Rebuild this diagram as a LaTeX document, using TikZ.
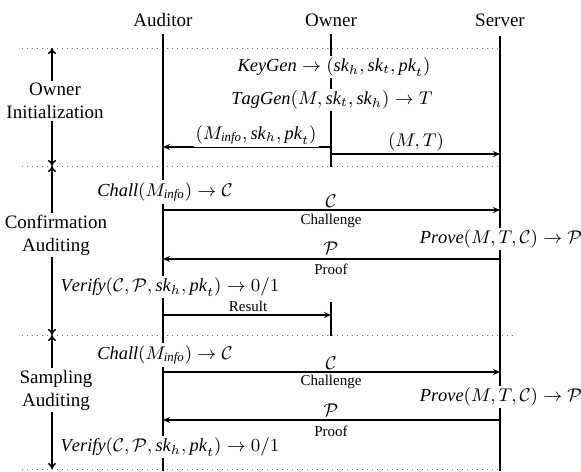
\RequirePackage{fix-cm}
\documentclass[tikz,border=0pt]{standalone}
\usepackage{fontspec}
\setmainfont{Liberation Serif}
\usetikzlibrary{arrows.meta}
\newcommand{\fn}[1]{\mathit{#1}}
\begin{document}
\begin{tikzpicture}[x=0.5pt,y=-0.5pt,
  lifeline/.style={line width=0.75pt},
  msg/.style={line width=0.75pt,-{Stealth[length=3.5pt,width=3pt]}},
  sep/.style={dotted,line width=0.5pt,black!55},
  phase/.style={line width=0.75pt,{To[length=3pt,width=4pt]}-{To[length=3pt,width=4pt]}},
  lbl/.style={fill=white,inner sep=1pt,font=\fontsize{9.2}{10.5}\selectfont},
  hdr/.style={inner sep=1pt,font=\fontsize{9.5}{11}\selectfont},
  sm/.style={inner sep=1pt,font=\fontsize{7.5}{9}\selectfont},
  ph/.style={fill=white,inner sep=1pt,align=center,font=\fontsize{9.5}{11.5}\selectfont}]
\useasboundingbox (0,0) rectangle (581,471);
% headers
\node[hdr] (audH) at (163,20) {Auditor};
\node[hdr] (ownH) at (331,20) {Owner};
\node[hdr] (srvH) at (500,20) {Server};
% separators
\coordinate (d1L) at (22,48);  \coordinate (d1R) at (500,48);
\coordinate (d2L) at (22,166); \coordinate (d2R) at (500,166);
\coordinate (d3L) at (22,335); \coordinate (d3R) at (515,335);
\coordinate (d4L) at (22,469); \coordinate (d4R) at (500,469);
\draw[sep] (d1L) -- (d1R);
\draw[sep] (d2L) -- (d2R);
\draw[sep] (d3L) -- (d3R);
\draw[sep] (d4L) -- (d4R);
% lifelines
\coordinate (audT) at (163,34); \coordinate (audB) at (163,471);
\coordinate (ownT) at (331,34); \coordinate (ownM) at (331,167);
\coordinate (ownR) at (331,302); \coordinate (ownE) at (331,336);
\coordinate (srvT) at (500,36); \coordinate (srvB) at (500,471);
\draw[lifeline] (audT) -- (audB);
\draw[lifeline] (ownT) -- (ownM);
\draw[lifeline] (ownR) -- (ownE);
\draw[lifeline] (srvT) -- (srvB);
% phases
\coordinate (ph1T) at (52,48);  \coordinate (ph1B) at (52,166);
\coordinate (ph2T) at (52,166); \coordinate (ph2B) at (52,335);
\coordinate (ph3T) at (52,335); \coordinate (ph3B) at (52,469);
\draw[phase] (ph1T) -- (ph1B);
\draw[phase] (ph2T) -- (ph2B);
\draw[phase] (ph3T) -- (ph3B);
\node[ph] (ph1) at (55,101) {Owner\\Initialization};
\node[ph] (ph2) at (56,235) {Confirmation\\Auditing};
\node[ph] (ph3) at (56,390) {Sampling\\Auditing};
% message coordinates
\coordinate (oA1) at (331,147); \coordinate (aA1) at (163,147);
\coordinate (oA2) at (331,154); \coordinate (sA2) at (500,154);
\coordinate (aC1) at (163,210); \coordinate (sC1) at (500,210);
\coordinate (sP1) at (500,259); \coordinate (aP1) at (163,259);
\coordinate (aR1) at (163,315); \coordinate (oR1) at (331,315);
\coordinate (aC2) at (163,372); \coordinate (sC2) at (500,372);
\coordinate (sP2) at (500,420); \coordinate (aP2) at (163,420);
\draw[msg] (oA1) -- (aA1);
\draw[msg] (oA2) -- (sA2);
\draw[msg] (aC1) -- (sC1);
\draw[msg] (sP1) -- (aP1);
\draw[msg] (aR1) -- (oR1);
\draw[msg] (aC2) -- (sC2);
\draw[msg] (sP2) -- (aP2);
% texts
\node[lbl] (keygen) at (334,67) {$\fn{KeyGen} \rightarrow (\fn{sk}_h, \fn{sk}_t, \fn{pk}_t)$};
\node[lbl] (taggen) at (332,100) {$\fn{TagGen}(M, \fn{sk}_t, \fn{sk}_h) \rightarrow T$};
\node[lbl] (minfo) at (256,135) {$(M_{\fn{info}}, \fn{sk}_h, \fn{pk}_t)$};
\node[lbl,fill=none] (mt) at (416,142) {$(M,T)$};
\node[lbl] (chall1) at (165,192) {$\fn{Chall}(M_{\fn{info}}) \rightarrow \mathcal{C}$};
\node[lbl] (c1) at (331,201) {$\mathcal{C}$};
\node[sm] (chl1) at (331,221) {Challenge};
\node[lbl] (prove1) at (501,239) {$\fn{Prove}(M,T,\mathcal{C}) \rightarrow \mathcal{P}$};
\node[lbl] (p1) at (331,248) {$\mathcal{P}$};
\node[sm] (pf1) at (331,269) {Proof};
\node[lbl] (verify1) at (170,287) {$\fn{Verify}(\mathcal{C}, \mathcal{P}, \fn{sk}_h, \fn{pk}_t) \rightarrow 0/1$};
\node[sm] (res) at (248,306) {Result};
\node[lbl] (chall2) at (165,355) {$\fn{Chall}(M_{\fn{info}}) \rightarrow \mathcal{C}$};
\node[lbl] (c2) at (331,363) {$\mathcal{C}$};
\node[sm] (chl2) at (331,382) {Challenge};
\node[lbl] (prove2) at (501,397) {$\fn{Prove}(M,T,\mathcal{C}) \rightarrow \mathcal{P}$};
\node[lbl] (p2) at (331,410) {$\mathcal{P}$};
\node[sm] (pf2) at (331,431) {Proof};
\node[lbl] (verify2) at (170,447) {$\fn{Verify}(\mathcal{C}, \mathcal{P}, \fn{sk}_h, \fn{pk}_t) \rightarrow 0/1$};
\end{tikzpicture}
\end{document}
